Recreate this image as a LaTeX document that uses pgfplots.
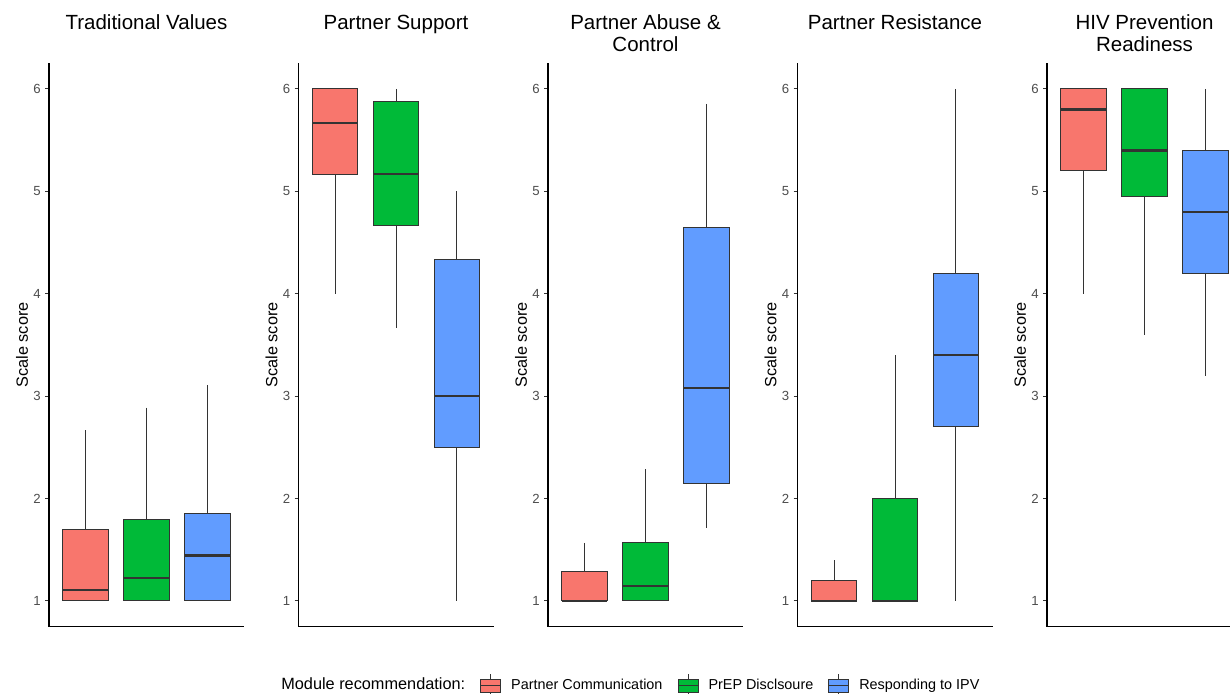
\documentclass[border=0pt]{standalone}
\usepackage{fontspec}
\setmainfont{Liberation Sans}
\usepackage{pgfplots}
\pgfplotsset{compat=1.18}
\usepgfplotslibrary{statistics}
\definecolor{cA}{HTML}{F8766D}
\definecolor{cB}{HTML}{00BA38}
\definecolor{cC}{HTML}{619CFF}
\definecolor{boxline}{HTML}{333333}
\definecolor{tickgrey}{HTML}{4D4D4D}
\pgfplotsset{
  panel/.style={
    scale only axis, width=97.5pt, height=281.6pt,
    xmin=0.4, xmax=3.6, ymin=0.75, ymax=6.25,
    axis x line*=bottom, axis y line*=left,
    axis line style={-, black, line width=0.55pt},
    xtick=\empty, ytick={1,2,3,4,5,6},
    tick align=outside, major tick length=2pt,
    tick style={boxline, line width=0.5pt},
    /pgf/number format/assume math mode=true,
    yticklabel style={font=\fontsize{6.6}{7}\selectfont, text=tickgrey, inner sep=0pt, anchor=east, xshift=-2pt},
    ylabel={Scale score},
    ylabel style={font=\fontsize{8.15}{9}\selectfont, at={(axis description cs:-0.1385,0.5)}, anchor=center, rotate=0},
    title style={font=\fontsize{10.25}{11}\selectfont, align=center, at={(axis description cs:0.5,1)}, anchor=north, inner sep=0pt, yshift=18.45pt},
    clip=false,
  },
  bx/.style={forget plot, draw=boxline, line width=0.5pt,
    boxplot/draw direction=y,
    boxplot/every median/.style={line width=1.1pt}},
  boxlegend/.style={draw=boxline, line width=0.5pt, fill=#1,
    legend image code/.code={%
      \draw[##1] (5pt,3.25pt) -- (5pt,5.75pt);
      \draw[##1] (5pt,-3.25pt) -- (5pt,-5.75pt);
      \draw[##1] (0pt,-3.25pt) rectangle (10pt,3.25pt);
      \draw[##1] (0pt,0pt) -- (10pt,0pt);}},
}
% box: colour, position, lower whisker, lower quartile, median, upper quartile, upper whisker
\newcommand{\bp}[7]{%
  \addplot[bx, fill=#1, boxplot prepared={draw position=#2, lower whisker=#3, lower quartile=#4, median=#5, upper quartile=#6, upper whisker=#7, box extend=0.75, whisker extend=0}] coordinates {};}
\begin{document}
\begin{tikzpicture}
\useasboundingbox (0,0) rectangle (615pt,347pt);
\clip (0,0) rectangle (615pt,347pt);
% Panel 1
\begin{axis}[panel, at={(24.5pt,33.7pt)}, anchor=south west, title={Traditional Values},
  legend columns=4,
  legend style={draw=none, fill=none, inner sep=0pt, at={(axis description cs:1.138,-0.1046)}, anchor=west,
    nodes={inner sep=0pt, font=\fontsize{7.2}{8}\selectfont},
    /tikz/every odd column/.append style={column sep=5pt},
    /tikz/every even column/.append style={column sep=7.5pt}},
  legend cell align=left]
\bp{cA}{1}{1}{1}{1.111}{1.7}{2.667}
\bp{cB}{2}{1}{1}{1.222}{1.8}{2.889}
\bp{cC}{3}{1}{1}{1.444}{1.852}{3.111}
\addlegendimage{empty legend}
\addlegendentry{\fontsize{8.15}{9}\selectfont Module recommendation:}
\addlegendimage{boxlegend=cA}
\addlegendentry{Partner Communication}
\addlegendimage{boxlegend=cB}
\addlegendentry{PrEP Disclsoure}
\addlegendimage{boxlegend=cC}
\addlegendentry{Responding to IPV}
\end{axis}
% Panel 2
\begin{axis}[panel, at={(149.25pt,33.7pt)}, anchor=south west, title={Partner Support}]
\bp{cA}{1}{4}{5.167}{5.667}{6}{6}
\bp{cB}{2}{3.667}{4.667}{5.167}{5.875}{6}
\bp{cC}{3}{1}{2.5}{3}{4.333}{5}
\end{axis}
% Panel 3
\begin{axis}[panel, at={(274pt,33.7pt)}, anchor=south west, title={Partner Abuse \&\\Control}]
\bp{cA}{1}{1}{1}{1}{1.286}{1.571}
\bp{cB}{2}{1}{1}{1.143}{1.571}{2.286}
\bp{cC}{3}{1.714}{2.143}{3.083}{4.643}{5.857}
\end{axis}
% Panel 4
\begin{axis}[panel, at={(398.75pt,33.7pt)}, anchor=south west, title={Partner Resistance}]
\bp{cA}{1}{1}{1}{1}{1.2}{1.4}
\bp{cB}{2}{1}{1}{1}{2}{3.4}
\bp{cC}{3}{1}{2.7}{3.4}{4.2}{6}
\end{axis}
% Panel 5
\begin{axis}[panel, at={(523.5pt,33.7pt)}, anchor=south west, title={HIV Prevention\\Readiness}]
\bp{cA}{1}{4}{5.2}{5.8}{6}{6}
\bp{cB}{2}{3.6}{4.95}{5.4}{6}{6}
\bp{cC}{3}{3.2}{4.2}{4.8}{5.4}{6}
\end{axis}
\end{tikzpicture}
\end{document}
